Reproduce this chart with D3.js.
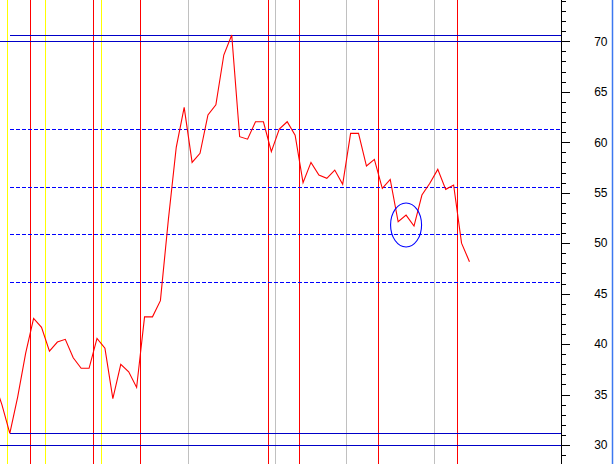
<!DOCTYPE html>
<html>
<head>
<meta charset="utf-8">
<script src="https://cdn.jsdelivr.net/npm/d3@7"></script>
<style>
  html, body { margin: 0; padding: 0; background: #fff; overflow: hidden; }
  svg { display: block; }
</style>
</head>
<body>
<svg id="chart" width="615" height="464"></svg>
<script>
// ---- data ----
const values = [36.3, 34.0, 31.16, 34.8, 39.1, 42.55, 41.66, 39.3, 40.2, 40.47,
  38.64, 37.6, 37.6, 40.57, 39.6, 34.6, 38.0, 37.26, 35.7, 42.7,
  42.7, 44.3, 52.3, 59.5, 63.46, 58.0, 58.9, 62.7, 63.7, 68.64,
  70.62, 60.55, 60.3, 62.03, 62.03, 59.06, 61.3, 62.03, 60.7, 55.99,
  58.0, 56.75, 56.42, 57.24, 55.83, 60.88, 60.88, 57.64, 58.3, 55.43,
  56.32, 52.12, 52.78, 51.69, 54.77, 55.93, 57.31, 55.33, 55.76, 50.0, 48.16];
const redMarkers = [4.51, 12.53, 18.43, 34.54, 38.53, 48.5, 58.46];
const yellowMarkers = [1.61, 6.48, 13.54];
const grayMarkers = [24.52, 35.5, 44.46, 55.56];
const extremeLevels = [70.62, 31.16];      // max / min
const frameLevels = [70, 30];
const fibLevels = [61.31, 55.53, 50.87, 46.17];
const yTickValues = d3.range(29, 75);
const yLabelValues = [30, 35, 40, 45, 50, 55, 60, 65, 70];
const highlight = { index: 52.0, value: 51.8 };

// ---- layout ----
const W = 615, H = 464;
const axisX = 561.5;
const svg = d3.select("#chart");

const x = d3.scaleLinear().domain([0, 60]).range([-6.025, -6.025 + 60 * 7.925]);
const y = d3.scaleLinear().domain([30, 70]).range([445, 41.3]);

svg.append("defs").append("clipPath").attr("id", "plotclip")
  .append("rect").attr("x", 0).attr("y", 0).attr("width", axisX).attr("height", H);

const plot = svg.append("g").attr("clip-path", "url(#plotclip)");
const px = v => Math.round(x(v)) + 0.5;
const py = v => Math.round(y(v)) + 0.5;

// vertical markers
function vlines(arr, color) {
  plot.selectAll(null).data(arr).enter().append("line")
    .attr("x1", d => px(d)).attr("x2", d => px(d))
    .attr("y1", 0).attr("y2", H)
    .attr("stroke", color).attr("stroke-width", 1)
    .attr("shape-rendering", "crispEdges");
}
vlines(grayMarkers, "#c0c0c0");
vlines(yellowMarkers, "#ffff00");
vlines(redMarkers, "#ff0000");

// horizontal levels
plot.selectAll(null).data(frameLevels).enter().append("line")
  .attr("x1", 0).attr("x2", axisX)
  .attr("y1", d => py(d)).attr("y2", d => py(d))
  .attr("stroke", "#0000c8").attr("stroke-width", 1)
  .attr("shape-rendering", "crispEdges");
plot.selectAll(null).data(extremeLevels).enter().append("line")
  .attr("x1", 10).attr("x2", axisX)
  .attr("y1", d => py(d)).attr("y2", d => py(d))
  .attr("stroke", "#0000c8").attr("stroke-width", 1)
  .attr("shape-rendering", "crispEdges");
plot.selectAll(null).data(fibLevels).enter().append("line")
  .attr("x1", 10).attr("x2", axisX)
  .attr("y1", d => py(d)).attr("y2", d => py(d))
  .attr("stroke", "#0000ff").attr("stroke-width", 1)
  .attr("stroke-dasharray", "4,2")
  .attr("shape-rendering", "crispEdges");

// data line
const line = d3.line().x((d, i) => x(i)).y(d => y(d));
plot.append("path").datum(values)
  .attr("d", line)
  .attr("fill", "none")
  .attr("stroke", "#ff0000")
  .attr("stroke-width", 1.1);

// highlight ellipse
plot.append("ellipse")
  .attr("cx", x(highlight.index)).attr("cy", y(highlight.value))
  .attr("rx", 15.5).attr("ry", 22)
  .attr("fill", "none").attr("stroke", "#0000ff").attr("stroke-width", 1.1);

// right axis
const ax = svg.append("g");
ax.append("line").attr("x1", axisX).attr("x2", axisX).attr("y1", 0).attr("y2", H)
  .attr("stroke", "#000").attr("stroke-width", 1).attr("shape-rendering", "crispEdges");
ax.selectAll(null).data(yTickValues).enter().append("line")
  .attr("x1", axisX).attr("x2", d => axisX + (d % 5 === 0 ? 8 : 4))
  .attr("y1", d => py(d)).attr("y2", d => py(d))
  .attr("stroke", "#000").attr("stroke-width", 1).attr("shape-rendering", "crispEdges");
ax.selectAll(null).data(yLabelValues).enter().append("text")
  .attr("x", 607.5).attr("y", d => y(d))
  .attr("dy", "0.36em")
  .attr("text-anchor", "end")
  .attr("font-family", "Liberation Sans, Arial, sans-serif")
  .attr("font-size", 12)
  .attr("fill", "#000")
  .text(d => d);

// right border
svg.append("line").attr("x1", 612.5).attr("x2", 612.5).attr("y1", 0).attr("y2", H)
  .attr("stroke", "#3c78f0").attr("stroke-width", 1.5);
</script>
</body>
</html>
